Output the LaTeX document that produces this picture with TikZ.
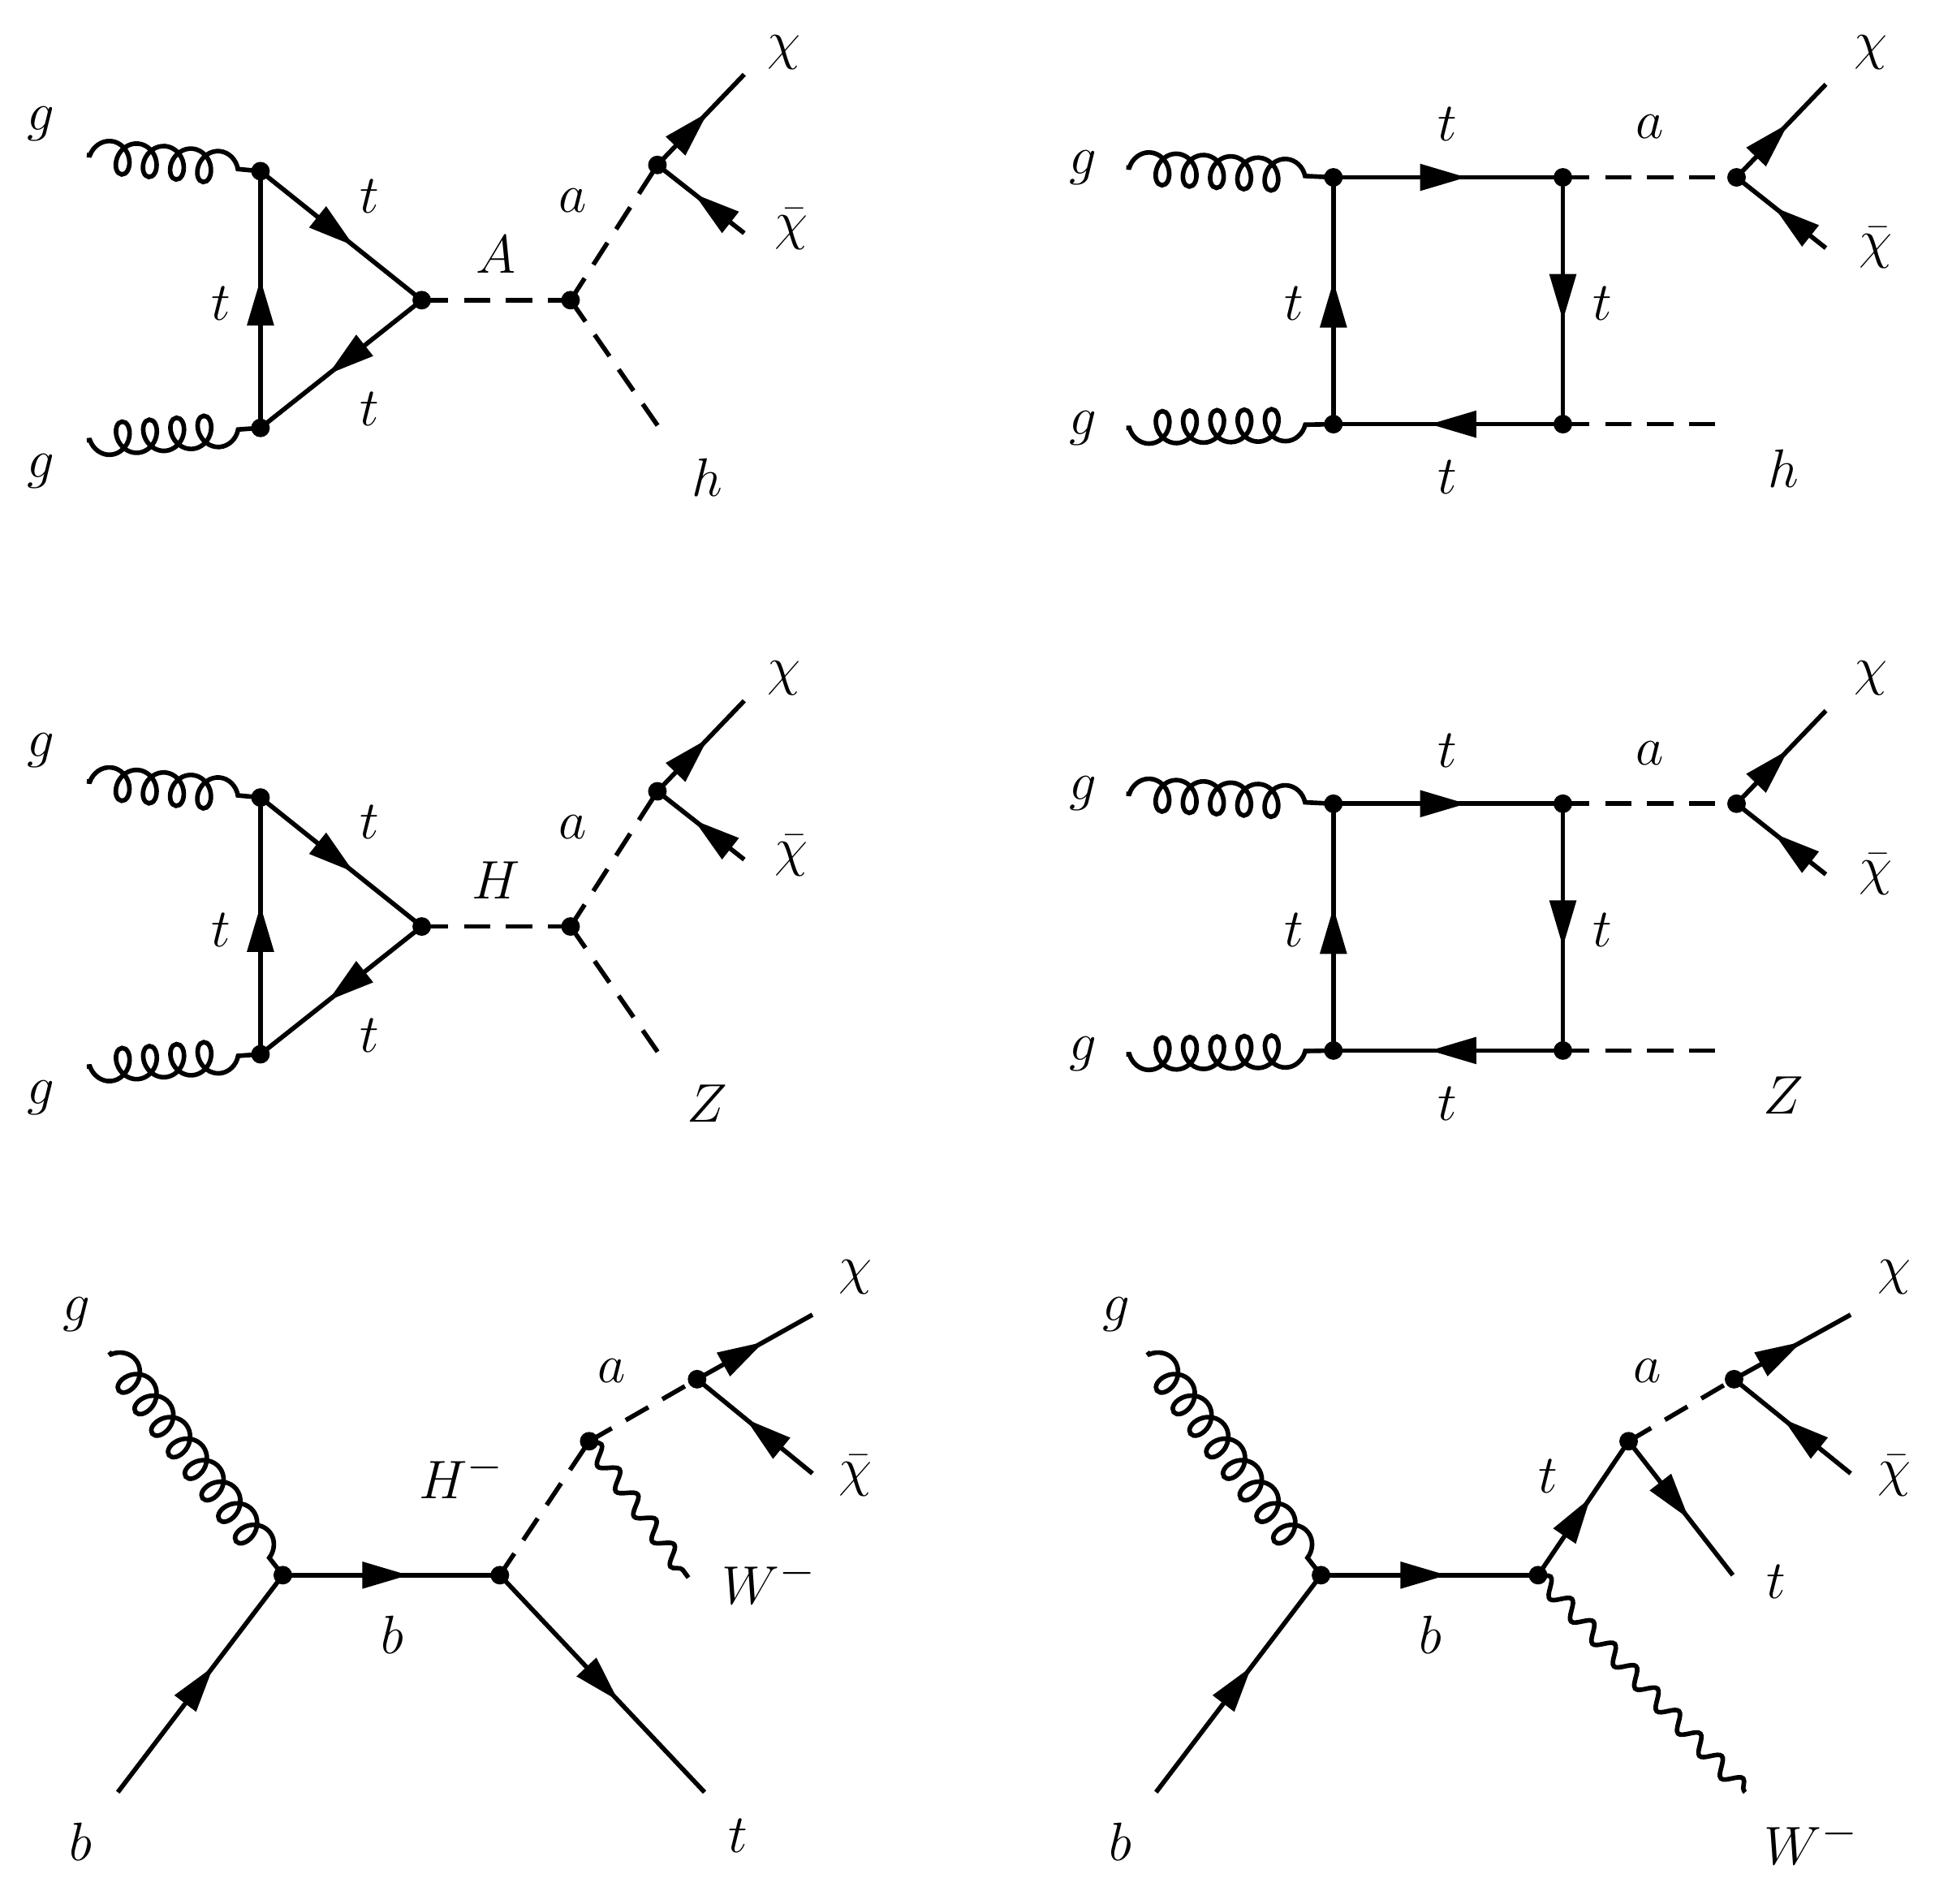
\documentclass[tikz,border=0pt]{standalone}
\usetikzlibrary{decorations.pathmorphing,decorations.markings,arrows.meta}
\tikzset{
 lbl/.style={font=\fontsize{30}{36}\selectfont},
 base/.style={line width=2.1pt},
 fermion/.style={base,postaction={decorate},decoration={markings,mark=at position 0.58 with {\arrow{Triangle[length=0.75cm,width=0.42cm]}}}},
 scalar/.style={base,dash pattern=on 0.42cm off 0.26cm},
 gluon/.style={base,decorate,decoration={coil,amplitude=0.26cm,segment length=0.44cm,aspect=0.8,pre length=0.05cm,post length=0.05cm}},
 photon/.style={base,decorate,decoration={snake,amplitude=0.13cm,segment length=0.5cm}},
 dotv/.style={circle,fill,inner sep=0pt,minimum size=0.3cm}
}
\newcommand\triagdiag[2]{%
 \coordinate (ga) at (70,125); \coordinate (gb) at (70,355);
 \node[dotv] (v1) at (210,138) {}; \node[dotv] (v2) at (210,345) {};
 \node[dotv] (v3) at (340,242) {}; \node[dotv] (v4) at (460,242) {};
 \node[dotv] (v5) at (530,133) {};
 \coordinate (c1) at (600,60); \coordinate (c2) at (600,188); \coordinate (hh) at (535,350);
 \draw[gluon] (ga) -- (v1.center); \draw[gluon,decoration={mirror}] (gb) -- (v2.center);
 \draw[fermion] (v2.center) -- (v1.center);
 \draw[fermion] (v1.center) -- (v3.center);
 \draw[fermion] (v3.center) -- (v2.center);
 \draw[scalar] (v3.center) -- (v4.center);
 \draw[scalar] (v4.center) -- (v5.center);
 \draw[scalar] (v4.center) -- (hh);
 \draw[fermion] (v5.center) -- (c1);
 \draw[fermion] (c2) -- (v5.center);
 \node[lbl] (l1) at (33,100) {$g$}; \node[lbl] (l2) at (33,380) {$g$};
 \node[lbl] (l3) at (178,245) {$t$}; \node[lbl] (l4) at (298,158) {$t$};
 \node[lbl] (l5) at (298,330) {$t$}; \node[lbl] (l6) at (400,205) {$#1$};
 \node[lbl] (l7) at (462,162) {$a$}; \node[lbl] (l8) at (632,42) {$\chi$};
 \node[lbl] (l9) at (638,185) {$\bar\chi$}; \node[lbl] (l10) at (570,385) {$#2$};
}
\newcommand\boxdiag[1]{%
 \coordinate (ga) at (908,135); \coordinate (gb) at (908,345);
 \node[dotv] (w1) at (1075,143) {}; \node[dotv] (w2) at (1075,342) {};
 \node[dotv] (w3) at (1260,143) {}; \node[dotv] (w4) at (1260,342) {};
 \node[dotv] (w5) at (1400,143) {};
 \coordinate (c1) at (1472,68); \coordinate (c2) at (1472,200); \coordinate (hh) at (1390,342);
 \draw[gluon] (ga) -- (w1.center); \draw[gluon,decoration={mirror}] (gb) -- (w2.center);
 \draw[fermion] (w1.center) -- (w3.center);
 \draw[fermion] (w2.center) -- (w1.center);
 \draw[fermion] (w3.center) -- (w4.center);
 \draw[fermion] (w4.center) -- (w2.center);
 \draw[scalar] (w3.center) -- (w5.center);
 \draw[scalar] (w4.center) -- (hh);
 \draw[fermion] (w5.center) -- (c1);
 \draw[fermion] (c2) -- (w5.center);
 \node[lbl] (m1) at (873,135) {$g$}; \node[lbl] (m2) at (873,345) {$g$};
 \node[lbl] (m3) at (1167,100) {$t$}; \node[lbl] (m4) at (1043,245) {$t$};
 \node[lbl] (m5) at (1292,245) {$t$}; \node[lbl] (m6) at (1167,385) {$t$};
 \node[lbl] (m7) at (1330,102) {$a$}; \node[lbl] (m8) at (1508,42) {$\chi$};
 \node[lbl] (m9) at (1512,200) {$\bar\chi$}; \node[lbl] (m10) at (1438,378) {$#1$};
}
\begin{document}
\begin{tikzpicture}[x=0.02cm,y=-0.02cm]
\useasboundingbox (0,0) rectangle (1560,1535);
\begin{scope} \triagdiag{A}{h} \boxdiag{h} \end{scope}
\begin{scope}[shift={(0,505)}] \triagdiag{H}{Z} \boxdiag{Z} \end{scope}
% bottom left
\coordinate (ga) at (88,1090); \coordinate (bi) at (95,1445);
\node[dotv] (p1) at (228,1270) {}; \node[dotv] (p2) at (403,1270) {};
\node[dotv] (p3) at (475,1162) {}; \node[dotv] (p4) at (562,1112) {};
\coordinate (pt) at (568,1445); \coordinate (pc1) at (655,1060);
\coordinate (pc2) at (655,1188); \coordinate (pw) at (555,1272);
\draw[gluon] (ga) -- (p1.center);
\draw[fermion] (bi) -- (p1.center);
\draw[fermion] (p1.center) -- (p2.center);
\draw[fermion] (p2.center) -- (pt);
\draw[scalar] (p2.center) -- (p3.center);
\draw[scalar] (p3.center) -- (p4.center);
\draw[fermion] (p4.center) -- (pc1);
\draw[fermion] (pc2) -- (p4.center);
\draw[photon] (p3.center) -- (pw);
\node[lbl] (n1) at (62,1060) {$g$}; \node[lbl] (n2) at (65,1485) {$b$};
\node[lbl] (n3) at (316,1318) {$b$}; \node[lbl] (n4) at (595,1480) {$t$};
\node[lbl] (n5) at (372,1190) {$H^-$}; \node[lbl] (n6) at (493,1105) {$a$};
\node[lbl] (n7) at (690,1030) {$\chi$}; \node[lbl] (n8) at (690,1190) {$\bar\chi$};
\node[lbl] (n9) at (620,1275) {$W^-$};
% bottom right
\coordinate (gb) at (925,1090); \coordinate (bj) at (932,1445);
\node[dotv] (q1) at (1065,1270) {}; \node[dotv] (q2) at (1240,1270) {};
\node[dotv] (q3) at (1313,1162) {}; \node[dotv] (q4) at (1398,1112) {};
\coordinate (qt) at (1397,1270); \coordinate (qc1) at (1492,1060);
\coordinate (qc2) at (1492,1188); \coordinate (qw) at (1407,1445);
\draw[gluon] (gb) -- (q1.center);
\draw[fermion] (bj) -- (q1.center);
\draw[fermion] (q1.center) -- (q2.center);
\draw[fermion] (q2.center) -- (q3.center);
\draw[scalar] (q3.center) -- (q4.center);
\draw[fermion] (q3.center) -- (qt);
\draw[fermion] (q4.center) -- (qc1);
\draw[fermion] (qc2) -- (q4.center);
\draw[photon] (q2.center) -- (qw);
\node[lbl] (o1) at (900,1060) {$g$}; \node[lbl] (o2) at (903,1485) {$b$};
\node[lbl] (o3) at (1153,1318) {$b$}; \node[lbl] (o4) at (1248,1190) {$t$};
\node[lbl] (o5) at (1328,1105) {$a$}; \node[lbl] (o6) at (1527,1030) {$\chi$};
\node[lbl] (o7) at (1527,1190) {$\bar\chi$}; \node[lbl] (o8) at (1432,1275) {$t$};
\node[lbl] (o9) at (1460,1485) {$W^-$};
\end{tikzpicture}
\end{document}
